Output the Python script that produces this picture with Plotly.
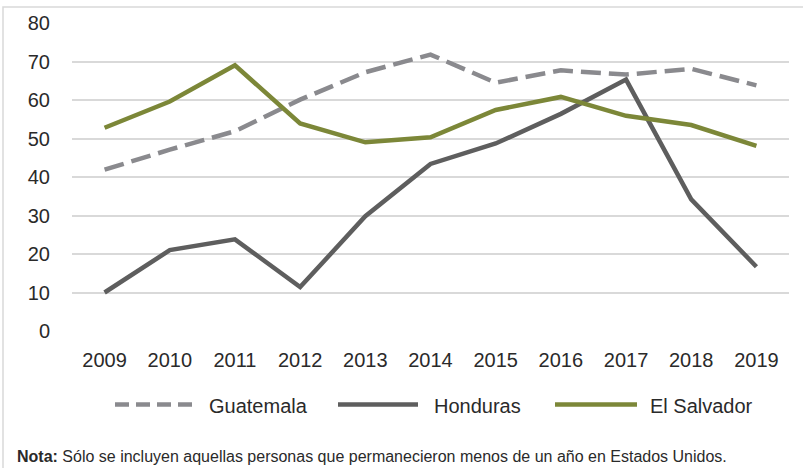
import plotly.graph_objects as go

years = ['2009', '2010', '2011', '2012', '2013', '2014', '2015', '2016', '2017', '2018', '2019']
guatemala = [41.9, 47.1, 51.9, 60.1, 67.2, 71.8, 64.5, 67.7, 66.6, 68.1, 63.8]
honduras = [10.0, 21.0, 23.8, 11.4, 29.8, 43.4, 48.7, 56.4, 65.3, 34.2, 16.7]
el_salvador = [52.8, 59.6, 69.0, 53.9, 49.0, 50.3, 57.4, 60.8, 55.9, 53.5, 48.1]
series_names = ['Guatemala', 'Honduras', 'El Salvador']
yticks = [0, 10, 20, 30, 40, 50, 60, 70, 80]
note_bold = 'Nota:'
note_text = ' Sólo se incluyen aquellas personas que permanecieron menos de un año en Estados Unidos.'

W, H = 803, 468
L, R, T, B = 72, 14, 21, 137
PW, PH = W - L - R, H - T - B

def px(x):
    return (x - L) / PW

def py(y):
    return (H - B - y) / PH

FONT = 'Liberation Sans, Arial, Helvetica, sans-serif'
TXT = '#2a2a2a'
colors = ['#8a8a8e', '#5e5e5e', '#7c8738']
dashes = ['20px,8px', 'solid', 'solid']

fig = go.Figure()
for name, vals, c, d in zip(series_names, [guatemala, honduras, el_salvador], colors, dashes):
    fig.add_trace(go.Scatter(x=years, y=vals, mode='lines', name=name,
                             line=dict(color=c, width=4.5, dash=d),
                             showlegend=False))

# custom legend (longer line samples than plotly's own)
legend_items = [(115, 197, 207), (338, 418, 432), (555, 637, 648)]
shapes = []
annotations = []
for (x0, x1, xt), name, c, d in zip(legend_items, series_names, colors, ['14px,7px', 'solid', 'solid']):
    shapes.append(dict(type='line', xref='paper', yref='paper',
                       x0=px(x0), x1=px(x1), y0=py(405), y1=py(405),
                       line=dict(color=c, width=4.5, dash=d)))
    annotations.append(dict(xref='paper', yref='paper', x=px(xt), y=py(406),
                            xanchor='left', yanchor='middle', showarrow=False,
                            text=name, font=dict(size=20, color=TXT, family=FONT)))

# outer frame
shapes.append(dict(type='rect', xref='paper', yref='paper', layer='below',
                   x0=px(3), x1=px(820), y0=py(5), y1=py(490),
                   line=dict(color='#d9d9d9', width=1.5)))

annotations.append(dict(xref='paper', yref='paper', x=px(15), y=py(457),
                        xanchor='left', yanchor='middle', showarrow=False,
                        text='<b>' + note_bold + '</b>' + note_text,
                        font=dict(size=16, color=TXT, family=FONT)))

fig.update_layout(
    width=W, height=H,
    margin=dict(l=L, r=R, t=T, b=B),
    paper_bgcolor='white', plot_bgcolor='white',
    font=dict(family=FONT, color=TXT),
    shapes=shapes, annotations=annotations,
    xaxis=dict(type='category', range=[-0.5, 10.5], showgrid=False, showline=False, zeroline=False,
               tickfont=dict(size=20), ticklabelstandoff=15),
    yaxis=dict(range=[0, 80], tickvals=yticks, showline=False, zeroline=False,
               gridcolor='#d9d9d9', gridwidth=1.5,
               tickfont=dict(size=20), ticklabelstandoff=21),
)
fig.write_html("out.html", config={'displayModeBar': False},
               post_script="document.body.style.margin='0px';document.body.style.overflow='hidden';")
